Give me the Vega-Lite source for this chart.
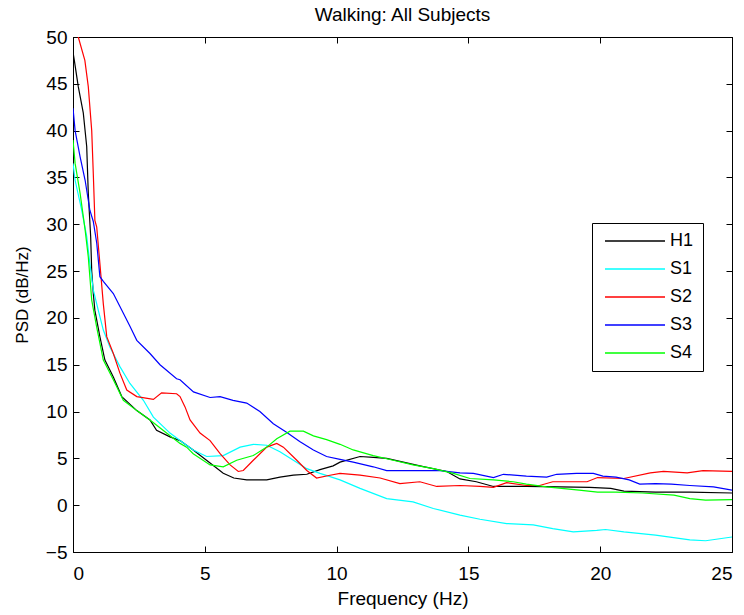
{
  "$schema": "https://vega.github.io/schema/vega-lite/v6.json",
  "autosize": "none",
  "width": 659,
  "height": 515,
  "padding": {"left": 73, "top": 37, "right": 12, "bottom": 63},
  "background": "white",
  "title": {"text": "Walking: All Subjects", "font": "Liberation Sans", "fontSize": 19, "fontWeight": "normal", "color": "#000000", "offset": -16},
  "config": {
    "view": {"stroke": "#000000", "strokeWidth": 1},
    "axis": {"grid": false, "domainColor": "#000000", "tickColor": "#000000", "labelColor": "#000000", "titleColor": "#000000", "labelFont": "Liberation Sans", "titleFont": "Liberation Sans", "labelFontSize": 19, "titleFontSize": 17, "titleFontWeight": "normal", "tickSize": -6, "labelPadding": 12}
  },
  "datasets": {
    "psd": [
      {"s":"H1","f":0,"p":48.4},{"s":"H1","f":0.05,"p":47.5},{"s":"H1","f":0.2,"p":44.7},{"s":"H1","f":0.39,"p":41.9},{"s":"H1","f":0.52,"p":38.3},{"s":"H1","f":0.58,"p":33.3},{"s":"H1","f":0.67,"p":28.7},{"s":"H1","f":0.71,"p":25},{"s":"H1","f":0.77,"p":22.6},{"s":"H1","f":0.83,"p":20.8},{"s":"H1","f":1.02,"p":18},{"s":"H1","f":1.21,"p":15.5},{"s":"H1","f":1.53,"p":13.7},{"s":"H1","f":1.85,"p":11.6},{"s":"H1","f":2.42,"p":10.1},{"s":"H1","f":2.92,"p":9.1},{"s":"H1","f":3.17,"p":8.0},{"s":"H1","f":3.68,"p":7.3},{"s":"H1","f":4.06,"p":6.9},{"s":"H1","f":4.56,"p":5.9},{"s":"H1","f":5.2,"p":4.5},{"s":"H1","f":5.7,"p":3.4},{"s":"H1","f":6.1,"p":2.9},{"s":"H1","f":6.59,"p":2.7},{"s":"H1","f":7.35,"p":2.7},{"s":"H1","f":7.85,"p":3.0},{"s":"H1","f":8.36,"p":3.2},{"s":"H1","f":8.87,"p":3.3},{"s":"H1","f":9.37,"p":3.8},{"s":"H1","f":9.87,"p":4.2},{"s":"H1","f":10.13,"p":4.6},{"s":"H1","f":10.89,"p":5.2},{"s":"H1","f":11.4,"p":5.1},{"s":"H1","f":11.9,"p":5.0},{"s":"H1","f":12.53,"p":4.6},{"s":"H1","f":13.16,"p":4.2},{"s":"H1","f":14.18,"p":3.6},{"s":"H1","f":14.68,"p":2.8},{"s":"H1","f":15.3,"p":2.5},{"s":"H1","f":15.95,"p":2.0},{"s":"H1","f":17.2,"p":2.0},{"s":"H1","f":18.47,"p":1.95},{"s":"H1","f":19.6,"p":1.9},{"s":"H1","f":20.4,"p":1.8},{"s":"H1","f":20.9,"p":1.5},{"s":"H1","f":22.1,"p":1.4},{"s":"H1","f":23.4,"p":1.4},{"s":"H1","f":25,"p":1.3},
      {"s":"S1","f":0,"p":36.5},{"s":"S1","f":0.08,"p":34.7},{"s":"S1","f":0.33,"p":31.5},{"s":"S1","f":0.52,"p":28.7},{"s":"S1","f":0.64,"p":25.8},{"s":"S1","f":0.77,"p":23},{"s":"S1","f":0.96,"p":20.8},{"s":"S1","f":1.15,"p":18.7},{"s":"S1","f":1.4,"p":16.9},{"s":"S1","f":1.78,"p":14.8},{"s":"S1","f":2.16,"p":13.0},{"s":"S1","f":2.67,"p":11.2},{"s":"S1","f":3.05,"p":9.4},{"s":"S1","f":3.68,"p":7.7},{"s":"S1","f":4.06,"p":6.9},{"s":"S1","f":4.56,"p":5.9},{"s":"S1","f":5.07,"p":5.2},{"s":"S1","f":5.7,"p":5.3},{"s":"S1","f":6.34,"p":6.2},{"s":"S1","f":6.84,"p":6.5},{"s":"S1","f":7.35,"p":6.4},{"s":"S1","f":7.85,"p":5.7},{"s":"S1","f":8.36,"p":4.8},{"s":"S1","f":8.87,"p":3.9},{"s":"S1","f":9.37,"p":3.4},{"s":"S1","f":10.13,"p":2.7},{"s":"S1","f":10.89,"p":1.8},{"s":"S1","f":11.9,"p":0.7},{"s":"S1","f":12.9,"p":0.35},{"s":"S1","f":13.67,"p":-0.35},{"s":"S1","f":14.68,"p":-1.07},{"s":"S1","f":15.44,"p":-1.5},{"s":"S1","f":16.45,"p":-1.96},{"s":"S1","f":17.46,"p":-2.1},{"s":"S1","f":18.2,"p":-2.5},{"s":"S1","f":18.98,"p":-2.85},{"s":"S1","f":19.87,"p":-2.7},{"s":"S1","f":20.2,"p":-2.6},{"s":"S1","f":20.9,"p":-2.85},{"s":"S1","f":22.1,"p":-3.2},{"s":"S1","f":23.4,"p":-3.7},{"s":"S1","f":24.0,"p":-3.8},{"s":"S1","f":25,"p":-3.4},
      {"s":"S2","f":0,"p":53},{"s":"S2","f":0.2,"p":50},{"s":"S2","f":0.45,"p":47.5},{"s":"S2","f":0.58,"p":44.7},{"s":"S2","f":0.71,"p":40},{"s":"S2","f":0.77,"p":35.4},{"s":"S2","f":0.83,"p":30.4},{"s":"S2","f":0.9,"p":29.7},{"s":"S2","f":1.02,"p":25.8},{"s":"S2","f":1.15,"p":21.5},{"s":"S2","f":1.28,"p":18.0},{"s":"S2","f":1.53,"p":16.2},{"s":"S2","f":1.78,"p":14.1},{"s":"S2","f":2.04,"p":12.3},{"s":"S2","f":2.42,"p":11.6},{"s":"S2","f":3.05,"p":11.3},{"s":"S2","f":3.36,"p":12.0},{"s":"S2","f":3.93,"p":11.9},{"s":"S2","f":4.06,"p":11.6},{"s":"S2","f":4.25,"p":10.5},{"s":"S2","f":4.44,"p":9.1},{"s":"S2","f":4.82,"p":7.7},{"s":"S2","f":5.2,"p":6.9},{"s":"S2","f":5.58,"p":5.5},{"s":"S2","f":5.96,"p":4.3},{"s":"S2","f":6.27,"p":3.6},{"s":"S2","f":6.46,"p":3.7},{"s":"S2","f":6.84,"p":4.8},{"s":"S2","f":7.35,"p":6.2},{"s":"S2","f":7.73,"p":6.6},{"s":"S2","f":7.98,"p":6.2},{"s":"S2","f":8.49,"p":4.8},{"s":"S2","f":8.87,"p":3.7},{"s":"S2","f":9.24,"p":2.9},{"s":"S2","f":9.75,"p":3.2},{"s":"S2","f":10.13,"p":3.4},{"s":"S2","f":10.89,"p":3.2},{"s":"S2","f":11.65,"p":2.9},{"s":"S2","f":12.4,"p":2.3},{"s":"S2","f":13.16,"p":2.5},{"s":"S2","f":13.8,"p":2.0},{"s":"S2","f":14.68,"p":2.1},{"s":"S2","f":15.44,"p":2.0},{"s":"S2","f":15.95,"p":1.9},{"s":"S2","f":16.45,"p":2.4},{"s":"S2","f":17.2,"p":2.1},{"s":"S2","f":17.7,"p":2.1},{"s":"S2","f":18.2,"p":2.5},{"s":"S2","f":19.5,"p":2.5},{"s":"S2","f":19.9,"p":2.95},{"s":"S2","f":20.9,"p":2.85},{"s":"S2","f":21.9,"p":3.45},{"s":"S2","f":22.4,"p":3.6},{"s":"S2","f":23.3,"p":3.45},{"s":"S2","f":23.9,"p":3.7},{"s":"S2","f":25,"p":3.6},
      {"s":"S3","f":0,"p":42.4},{"s":"S3","f":0.08,"p":40},{"s":"S3","f":0.27,"p":37.2},{"s":"S3","f":0.46,"p":34.7},{"s":"S3","f":0.64,"p":31.5},{"s":"S3","f":0.77,"p":30.3},{"s":"S3","f":0.9,"p":28},{"s":"S3","f":1.02,"p":24.4},{"s":"S3","f":1.15,"p":23.9},{"s":"S3","f":1.53,"p":22.6},{"s":"S3","f":1.91,"p":20.5},{"s":"S3","f":2.16,"p":19.1},{"s":"S3","f":2.42,"p":17.6},{"s":"S3","f":2.92,"p":16.2},{"s":"S3","f":3.3,"p":15.0},{"s":"S3","f":3.93,"p":13.5},{"s":"S3","f":4.06,"p":13.4},{"s":"S3","f":4.57,"p":12.1},{"s":"S3","f":5.2,"p":11.5},{"s":"S3","f":5.58,"p":11.6},{"s":"S3","f":6.07,"p":11.2},{"s":"S3","f":6.59,"p":10.9},{"s":"S3","f":7.09,"p":10.0},{"s":"S3","f":7.6,"p":8.7},{"s":"S3","f":8.1,"p":7.8},{"s":"S3","f":8.6,"p":6.8},{"s":"S3","f":9.12,"p":5.9},{"s":"S3","f":9.62,"p":5.2},{"s":"S3","f":10.13,"p":4.9},{"s":"S3","f":10.63,"p":4.6},{"s":"S3","f":11.39,"p":4.1},{"s":"S3","f":11.9,"p":3.7},{"s":"S3","f":12.9,"p":3.7},{"s":"S3","f":13.92,"p":3.7},{"s":"S3","f":14.68,"p":3.45},{"s":"S3","f":15.19,"p":3.4},{"s":"S3","f":15.95,"p":2.95},{"s":"S3","f":16.33,"p":3.3},{"s":"S3","f":17.2,"p":3.1},{"s":"S3","f":17.97,"p":3.0},{"s":"S3","f":18.35,"p":3.3},{"s":"S3","f":19.1,"p":3.4},{"s":"S3","f":19.74,"p":3.4},{"s":"S3","f":20.1,"p":3.1},{"s":"S3","f":20.6,"p":3.0},{"s":"S3","f":21.1,"p":2.7},{"s":"S3","f":21.5,"p":2.25},{"s":"S3","f":22.1,"p":2.3},{"s":"S3","f":22.7,"p":2.25},{"s":"S3","f":23.4,"p":2.1},{"s":"S3","f":24.3,"p":1.96},{"s":"S3","f":25,"p":1.6},
      {"s":"S4","f":0,"p":39},{"s":"S4","f":0.08,"p":36.5},{"s":"S4","f":0.27,"p":33.3},{"s":"S4","f":0.46,"p":29.4},{"s":"S4","f":0.58,"p":26.5},{"s":"S4","f":0.71,"p":21.9},{"s":"S4","f":0.9,"p":19.0},{"s":"S4","f":1.15,"p":15.5},{"s":"S4","f":1.53,"p":13.4},{"s":"S4","f":1.91,"p":11.2},{"s":"S4","f":2.42,"p":10.1},{"s":"S4","f":2.92,"p":9.1},{"s":"S4","f":3.55,"p":7.7},{"s":"S4","f":4.06,"p":6.6},{"s":"S4","f":4.31,"p":6.2},{"s":"S4","f":4.56,"p":5.5},{"s":"S4","f":5.2,"p":4.3},{"s":"S4","f":5.7,"p":4.1},{"s":"S4","f":6.21,"p":4.8},{"s":"S4","f":6.84,"p":5.3},{"s":"S4","f":7.35,"p":6.2},{"s":"S4","f":7.73,"p":7.1},{"s":"S4","f":8.23,"p":7.9},{"s":"S4","f":8.74,"p":7.9},{"s":"S4","f":9.12,"p":7.4},{"s":"S4","f":9.62,"p":7.0},{"s":"S4","f":10.13,"p":6.5},{"s":"S4","f":10.63,"p":5.9},{"s":"S4","f":11.39,"p":5.3},{"s":"S4","f":12.15,"p":4.8},{"s":"S4","f":12.9,"p":4.3},{"s":"S4","f":13.67,"p":3.9},{"s":"S4","f":14.43,"p":3.4},{"s":"S4","f":15.06,"p":2.85},{"s":"S4","f":15.95,"p":2.7},{"s":"S4","f":16.7,"p":2.5},{"s":"S4","f":17.2,"p":2.25},{"s":"S4","f":17.97,"p":1.96},{"s":"S4","f":19.2,"p":1.6},{"s":"S4","f":19.9,"p":1.4},{"s":"S4","f":20.6,"p":1.4},{"s":"S4","f":21.6,"p":1.3},{"s":"S4","f":22.8,"p":1.07},{"s":"S4","f":23.4,"p":0.7},{"s":"S4","f":24.0,"p":0.53},{"s":"S4","f":25,"p":0.6}
    ]
  },
  "data": {"name": "psd"},
  "layer": [
    {
      "mark": {"type": "line", "strokeWidth": 1.2, "clip": true},
      "encoding": {
        "x": {"field": "f", "type": "quantitative", "scale": {"domain": [0, 25], "nice": false, "zero": false},
              "axis": {"orient": "bottom", "values": [0, 5, 10, 15, 20, 25], "title": "Frequency (Hz)", "titleFontSize": 19, "titlePadding": 6, "labelPadding": 18}},
        "y": {"field": "p", "type": "quantitative", "scale": {"domain": [-5, 50], "nice": false, "zero": false},
              "axis": {"orient": "left", "values": [-5, 0, 5, 10, 15, 20, 25, 30, 35, 40, 45, 50], "title": "PSD (dB/Hz)", "titlePadding": 14}},
        "color": {"field": "s", "type": "nominal",
                  "scale": {"domain": ["H1", "S1", "S2", "S3", "S4"], "range": ["#000000", "#00ffff", "#ff0000", "#0000ff", "#00ff00"]},
                  "legend": {"orient": "none", "legendX": 519, "legendY": 186, "title": null, "symbolType": "M-1,0H11", "symbolSize": 100, "symbolStrokeWidth": 1.5, "labelOffset": 51, "labelFont": "Liberation Sans", "labelFontSize": 18, "labelColor": "#000000", "rowPadding": 10, "padding": 9, "strokeColor": "#000000", "fillColor": "#ffffff"}},
        "detail": {"field": "s"}
      }
    },
    {
      "mark": {"type": "line", "opacity": 0},
      "encoding": {
        "x": {"field": "f", "type": "quantitative", "axis": {"orient": "top", "values": [0, 5, 10, 15, 20, 25], "labels": false, "title": null}},
        "y": {"field": "p", "type": "quantitative", "axis": {"orient": "right", "values": [-5, 0, 5, 10, 15, 20, 25, 30, 35, 40, 45, 50], "labels": false, "title": null}},
        "detail": {"field": "s"}
      }
    }
  ],
  "resolve": {"axis": {"x": "independent", "y": "independent"}}
}
